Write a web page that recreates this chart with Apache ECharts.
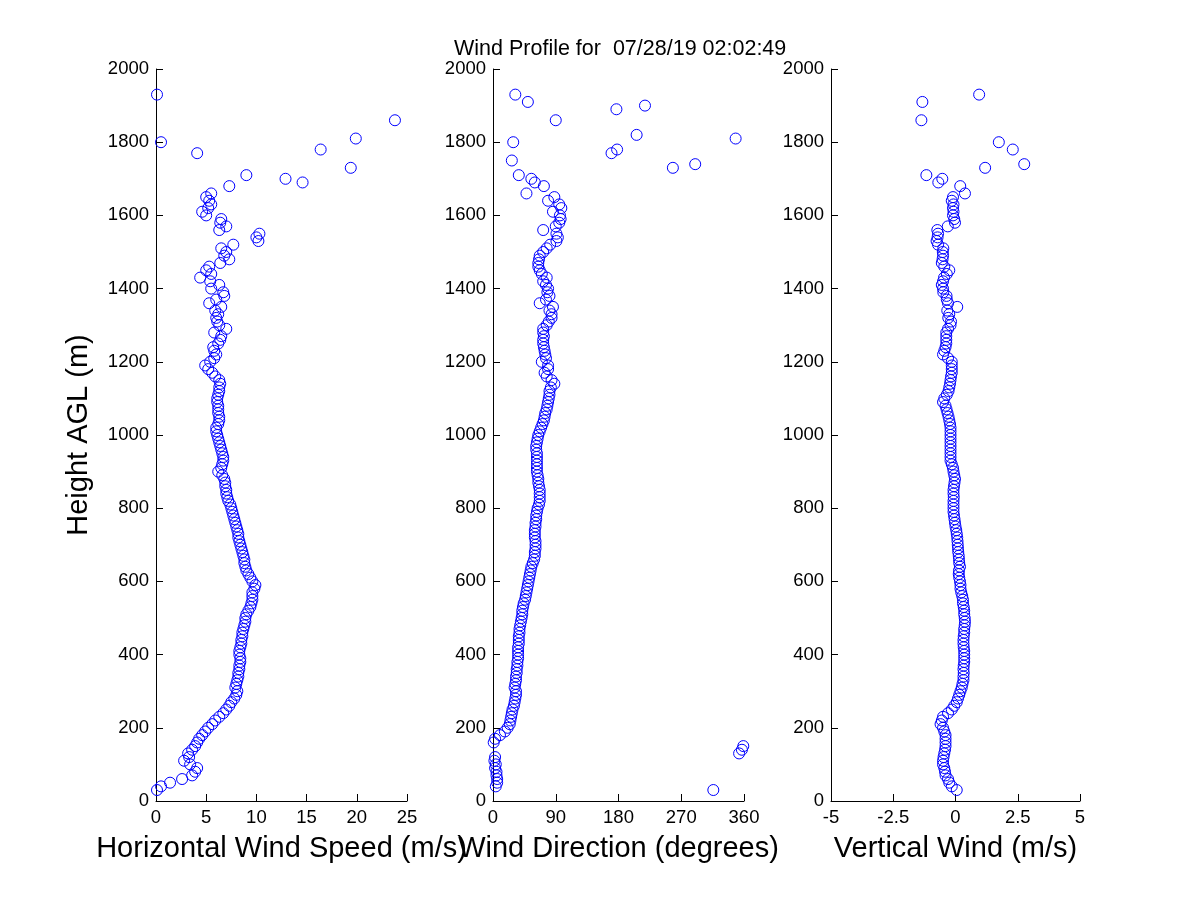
<!DOCTYPE html>
<html>
<head>
<meta charset="utf-8">
<script src="https://cdn.jsdelivr.net/npm/echarts@6/dist/echarts.min.js"></script>
<style>
html,body{margin:0;padding:0;background:#fff;}
#chart{width:1200px;height:900px;}
</style>
</head>
<body>
<div id="chart"></div>
<script>
// Heights (m AGL)
var heights = [
  30, 40, 50, 60, 70, 80, 90, 100, 110, 120,
  130, 140, 150, 160, 170, 180, 190, 200, 210, 220,
  230, 240, 250, 260, 270, 280, 290, 300, 310, 320,
  330, 340, 350, 360, 370, 380, 390, 400, 410, 420,
  430, 440, 450, 460, 470, 480, 490, 500, 510, 520,
  530, 540, 550, 560, 570, 580, 590, 600, 610, 620,
  630, 640, 650, 660, 670, 680, 690, 700, 710, 720,
  730, 740, 750, 760, 770, 780, 790, 800, 810, 820,
  830, 840, 850, 860, 870, 880, 890, 900, 910, 920,
  930, 940, 950, 960, 970, 980, 990, 1000, 1010, 1020,
  1030, 1040, 1050, 1060, 1070, 1080, 1090, 1100, 1110, 1120,
  1130, 1140, 1150, 1160, 1170, 1180, 1190, 1200, 1210, 1220,
  1230, 1240, 1250, 1260, 1270, 1280, 1290, 1300, 1310, 1320,
  1330, 1340, 1350, 1360, 1370, 1380, 1390, 1400, 1410, 1420,
  1430, 1440, 1450, 1460, 1470, 1480, 1490, 1500, 1510, 1520,
  1530, 1540, 1550, 1560, 1570, 1580, 1590, 1600, 1610, 1620,
  1630, 1640, 1650, 1660, 1670, 1680, 1690, 1700, 1710, 1720,
  1730, 1740, 1750, 1760, 1770, 1780, 1790, 1800, 1810, 1820,
  1830, 1840, 1850, 1860, 1870, 1880, 1890, 1900, 1910, 1920,
  1930
];

// Horizontal wind speed (m/s)
var speed = [
  0.1, 0.5, 1.4, 2.6, 3.6, 3.9, 4.1, 3.4, 2.8, 3.3,
  3.2, 3.6, 3.9, 4.1, 4.3, 4.6, 4.9, 5.2, 5.6, 5.9,
  6.3, 6.7, 7.0, 7.3, 7.5, 7.8, 8.0, 8.1, 7.9, 8.0,
  8.1, 8.2, 8.2, 8.3, 8.3, 8.4, 8.4, 8.3, 8.3, 8.4,
  8.5, 8.5, 8.6, 8.6, 8.7, 8.8, 8.9, 8.9, 9.0, 9.2,
  9.4, 9.5, 9.6, 9.6, 9.6, 9.8, 9.9, 9.6, 9.4, 9.2,
  9.0, 8.9, 8.8, 8.8, 8.7, 8.6, 8.5, 8.4, 8.3, 8.2,
  8.2, 8.1, 8.0, 7.9, 7.8, 7.7, 7.6, 7.5, 7.4, 7.2,
  7.1, 7.0, 7.0, 6.9, 6.9, 6.8, 6.6, 6.2, 6.5, 6.6,
  6.7, 6.7, 6.6, 6.5, 6.4, 6.3, 6.2, 6.1, 6.0, 6.0,
  6.2, 6.3, 6.3, 6.2, 6.2, 6.2, 6.1, 6.1, 6.2, 6.3,
  6.3, 6.4, 6.3, 5.9, 5.6, 5.2, 4.9, 5.4, 5.8, 6.0,
  5.8, 5.7, 6.2, 6.4, 6.5, 5.8, 7.0, 6.3, 6.1, 6.0,
  6.2, 5.9, 6.5, 5.3, 6.0, 6.8, 6.7, 5.5, 6.3, 5.4,
  4.4, 5.5, 5.0, 5.3, 6.4, 7.3, 6.8, 7.0, 6.5, 7.7,
  10.2, 10.0, 10.3, 6.3, 7.0, 6.4, 6.5, 5.0, 4.6, 5.2,
  5.5, 5.3, 5.0, 5.5, null, 7.3, 14.6, 12.9, 9.0, null,
  19.4, null, null, null, 4.1, 16.4, null, 0.5, 19.9, null,
  null, null, null, 23.8, null, null, null, null, null, null,
  0.1
];

// Wind direction (degrees)
var direction = [
  316, 4, 6, 6, 5, 5, 3, 4, 2, 3,
  353, 357, 359, 1, 3, 10, 17, 21, 24, 25,
  26, 27, 28, 30, 31, 32, 33, 33, 31, 32,
  33, 33, 34, 34, 35, 35, 36, 36, 36, 36,
  37, 37, 37, 38, 38, 39, 40, 41, 42, 42,
  43, 44, 46, 47, 48, 49, 50, 51, 52, 53,
  54, 55, 57, 59, 60, 60, 61, 61, 61, 60,
  60, 60, 61, 61, 62, 62, 63, 64, 66, 67,
  67, 67, 67, 66, 65, 65, 64, 63, 63, 63,
  63, 63, 63, 62, 62, 63, 64, 65, 67, 69,
  71, 73, 74, 75, 77, 78, 79, 80, 81, 81,
  83, 88, 84, 77, 74, 79, 79, 70, 76, 75,
  74, 73, 72, 72, 73, 72, 72, 77, 80, 84,
  84, 81, 86, 67, 76, 81, 78, 79, 76, 72,
  77, 70, 67, 65, 65, 66, 67, 72, 77, 82,
  91, 93, 91, 72, 90, 95, 97, 96, 86, 98,
  95, 79, 88, 48, null, 73, 60, 55, 37, null,
  258, 290, 27, null, 170, 178, null, 29, 348, 206,
  null, null, null, 90, null, null, 177, 218, 50, null,
  32
];

// Vertical wind (m/s)
var vertical = [
  0.05, -0.15, -0.25, -0.3, -0.4, -0.42, -0.45, -0.5, -0.5, -0.48,
  -0.45, -0.42, -0.4, -0.4, -0.4, -0.4, -0.45, -0.5, -0.6, -0.55,
  -0.5, -0.3, -0.15, -0.05, 0.05, 0.1, 0.15, 0.2, 0.25, 0.28,
  0.32, 0.32, 0.33, 0.32, 0.33, 0.35, 0.35, 0.35, 0.35, 0.33,
  0.32, 0.32, 0.33, 0.35, 0.35, 0.37, 0.38, 0.37, 0.35, 0.35,
  0.33, 0.3, 0.3, 0.27, 0.23, 0.2, 0.2, 0.18, 0.15, 0.13,
  0.14, 0.18, 0.15, 0.14, 0.13, 0.11, 0.1, 0.09, 0.08, 0.07,
  0.05, 0.03, 0.0, -0.02, -0.04, -0.06, -0.08, -0.08, -0.08, -0.08,
  -0.07, -0.08, -0.08, -0.06, -0.04, -0.02, -0.05, -0.08, -0.1, -0.15,
  -0.2, -0.2, -0.2, -0.2, -0.2, -0.2, -0.2, -0.2, -0.2, -0.2,
  -0.22, -0.25, -0.28, -0.32, -0.36, -0.4, -0.5, -0.45, -0.35, -0.28,
  -0.25, -0.22, -0.2, -0.18, -0.15, -0.15, -0.15, -0.15, -0.3, -0.5,
  -0.45, -0.4, -0.37, -0.37, -0.37, -0.37, -0.3, -0.2, -0.18, -0.29,
  -0.25, -0.33, 0.07, -0.3, -0.35, -0.36, -0.49, -0.5, -0.55, -0.5,
  -0.46, -0.35, -0.25, -0.45, -0.55, -0.52, -0.5, -0.51, -0.49, -0.7,
  -0.76, -0.72, -0.7, -0.73, -0.31, -0.02, -0.05, -0.1, -0.08, -0.1,
  -0.08, -0.15, -0.1, 0.38, null, 0.19, -0.69, -0.53, -1.17, null,
  1.19, 2.76, null, null, null, 2.30, null, 1.74, null, null,
  null, null, null, -1.37, null, null, null, null, -1.33, null,
  0.95
];

var titleText = 'Wind Profile for  07/28/19 02:02:49';
var xNames = ['Horizontal Wind Speed (m/s)', 'Wind Direction (degrees)', 'Vertical Wind (m/s)'];
var yName = 'Height AGL (m)';

function pairs(vals) {
  var out = [];
  for (var i = 0; i < heights.length; i++) {
    if (vals[i] !== null && vals[i] !== undefined) out.push([vals[i], heights[i]]);
  }
  return out;
}

function plain(v) { return String(v); }

var FONT = "'Liberation Sans', Arial, sans-serif";
var tickLabel = { color: '#000', fontSize: 18.5, fontFamily: FONT, formatter: plain };
var axLine = { show: true, onZero: false, lineStyle: { color: '#000', width: 1 } };
var axTick = { show: true, inside: true, length: 7, lineStyle: { color: '#000', width: 1 } };
var nameStyle = { color: '#000', fontSize: 29, fontFamily: FONT };

var grids = [
  { left: 156, width: 251, top: 69, height: 732 },
  { left: 493, width: 251, top: 69, height: 732 },
  { left: 831, width: 249, top: 69, height: 732 }
];

var xRanges = [
  { min: 0, max: 25, interval: 5 },
  { min: 0, max: 360, interval: 90 },
  { min: -5, max: 5, interval: 2.5 }
];

var xAxes = xRanges.map(function (r, i) {
  return {
    type: 'value', gridIndex: i, min: r.min, max: r.max, interval: r.interval,
    axisLine: axLine, axisTick: axTick, splitLine: { show: false },
    axisLabel: Object.assign({ margin: 7 }, tickLabel),
    name: xNames[i], nameLocation: 'middle', nameGap: 33,
    nameTextStyle: nameStyle
  };
});

var yAxes = [0, 1, 2].map(function (i) {
  var a = {
    type: 'value', gridIndex: i, min: 0, max: 2000, interval: 200,
    axisLine: axLine, axisTick: axTick, splitLine: { show: false },
    axisLabel: Object.assign({ margin: 7 }, tickLabel)
  };
  if (i === 0) {
    a.name = yName; a.nameLocation = 'middle'; a.nameGap = 63;
    a.nameTextStyle = nameStyle;
  }
  return a;
});

var dataSets = [speed, direction, vertical];
var series = dataSets.map(function (d, i) {
  return {
    type: 'scatter', xAxisIndex: i, yAxisIndex: i,
    data: pairs(d), symbol: 'circle', symbolSize: 11, clip: false,
    itemStyle: { color: 'rgba(0,0,0,0)', borderColor: '#0000ff', borderWidth: 1, opacity: 1 },
    emphasis: { disabled: true }, animation: false
  };
});

var chart = echarts.init(document.getElementById('chart'), null, { renderer: 'canvas' });
chart.setOption({
  backgroundColor: '#fff',
  animation: false,
  title: {
    text: titleText, left: 449, top: 33,
    textStyle: { color: '#000', fontSize: 21.5, fontWeight: 'normal', fontFamily: FONT }
  },
  grid: grids,
  xAxis: xAxes,
  yAxis: yAxes,
  series: series
});
</script>
</body>
</html>
